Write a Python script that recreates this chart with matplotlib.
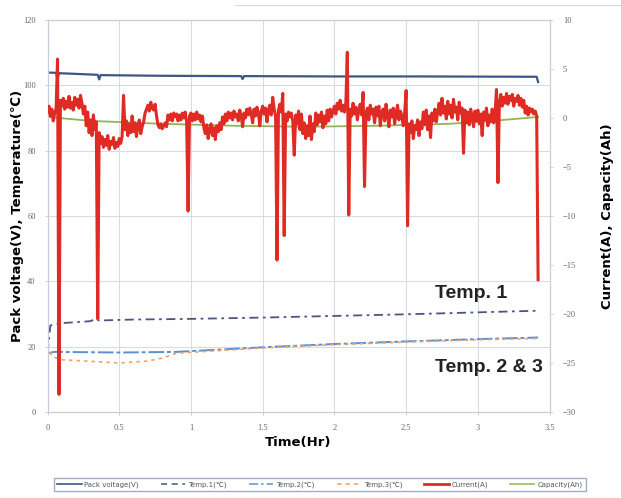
import numpy as np
import matplotlib.pyplot as plt
from matplotlib.lines import Line2D

plt.rcParams['font.family'] = ['DejaVu Sans', 'Noto Sans CJK KR']

current = [
    0.6, 1.2, 0.2, 0.9, -0.3, 0.5, 1.0, 6.0, -28.2, 1.8,
    1.2, 2.0, 0.9, 1.7, 1.1, 2.2, 1.0, 1.6, 0.8, 2.1,
    1.3, 1.9, 1.0, 2.3, 1.5, 0.4, 1.2, -0.8, 0.6, -1.5,
    -0.2, -1.8, 0.3, -1.2, -0.4, -20.5, -1.5, -2.6, -1.9, -3.0,
    -2.2, -2.8, -1.8, -3.2, -2.4, -2.7, -2.0, -3.1, -2.5, -2.9,
    -2.1, -2.6, -1.9, 2.3, -1.2, -0.3, -1.8, -0.6, -1.5, 0.2,
    -1.4, -0.5, -1.9, -0.8, -0.2, -1.6, -0.9, -0.4, 0.5, 0.9,
    1.3, 0.7, 1.6, 1.0, 0.8, 1.4, 0.2, -0.7, -1.0, -0.6,
    -1.1, -0.8, -0.5, -0.9, 0.3, -0.2, 0.4, -0.3, 0.5, 0.1,
    0.4, -0.3, 0.3, -0.2, 0.5, 0.0, 0.6, -0.4, -9.5, 0.2,
    0.5, -0.3, 0.4, -0.2, 0.6, -0.1, 0.3, -0.4, 0.2, -1.0,
    -1.6, -0.7, -2.1, -1.2, -0.6, -1.8, -1.0, -2.2, -0.8, -1.4,
    -0.5, -1.2, 0.1, -0.6, 0.4, -0.3, 0.6, 0.0, 0.5, -0.2,
    0.7, 0.1, 0.4, -0.3, 0.8, 0.2, -0.9, 0.5, 0.0, 0.9,
    0.3, 1.0, 0.4, -0.5, 0.9, 0.2, 1.1, 0.5, -0.8, 0.7,
    1.2, 0.4, 1.0, -0.4, 0.8, 1.3, 0.3, 2.1, 0.9, 0.2,
    -14.5, 0.8, 1.4, 0.6, 2.5, -12.0, 0.4, -0.3, 0.6, 0.1,
    0.5, -0.4, -3.8, 0.3, -0.6, 0.7, -1.2, 0.4, -1.6, -0.5,
    -2.1, -0.8, -1.8, 0.2, -2.2, -0.6, -1.4, 0.5, -0.7, 0.3,
    -0.4, 0.6, -1.0, 0.2, -0.6, 0.8, -0.3, 0.9, 0.1, 0.7,
    1.2, 0.4, 1.5, 0.9, 1.8, 0.7, 1.3, 0.6, 1.6, 6.7,
    -9.9, 0.9, 0.2, 1.5, 0.4, 1.1, -0.2, 0.8, 1.4, 0.3,
    2.6, -7.0, 0.5, 1.0, -0.2, 1.3, 0.4, 0.9, -0.5, 1.1,
    0.2, 1.2, -0.8, 0.6, 0.9, -0.3, 1.4, 0.3, -0.9, 0.8,
    0.1, 1.0, -0.6, 0.5, 1.3, -0.2, 0.7, 0.2, -0.8, 0.6,
    2.8, -11.0, -0.6, -1.5, -0.3, -2.1, -0.8, -1.2, -0.2, -1.8,
    -0.4, -1.1, 0.6, -0.7, 0.8, -1.2, 0.2, -2.0, 0.5, -0.3,
    0.9, -0.4, 0.6, 1.5, 0.3, 2.0, 0.5, 1.2, -0.1, 1.7,
    0.4, 1.3, 0.0, 1.9, 0.6, 1.1, -0.2, 1.6, 0.5, 1.0,
    -3.6, 0.8, -0.5, 0.6, -0.7, 0.9, 0.1, -0.9, 0.7, -0.3,
    0.8, -0.6, 0.4, -1.8, 0.6, -0.2, 1.0, -0.8, 0.3, -0.4,
    0.9, -0.5, 0.5, 2.9, -6.6, 1.6, 2.4, 1.2, 2.1, 1.5,
    2.5, 1.4, 2.2, 1.8, 2.4, 1.2, 2.0, 1.7, 2.3, 1.3,
    2.0, 1.1, 1.8, 0.5, 1.2, 0.3, 1.0, 0.6, 0.9, 0.4,
    0.7, 0.2, -16.5,
]
dt = 0.01
t_current = np.arange(len(current)) * dt

# capacity (Ah)
t_cap = [0, 0.3, 0.8, 1.3, 1.8, 2.3, 2.8, 3.1, 3.42]
capacity = [0.1, -0.3, -0.6, -0.8, -0.9, -0.8, -0.6, -0.3, 0.1]

# pack voltage (V)
t_volt = [0, 0.06, 0.07, 0.08, 0.35, 0.36, 0.37, 0.8, 1.35, 1.36, 1.37, 2.0, 2.6, 3.41, 3.42]
voltage = [103.9, 103.8, 101.8, 103.7, 103.2, 101.8, 103.1, 102.9, 102.8, 101.9, 102.8, 102.7, 102.7, 102.6, 101.0]

# temperatures (deg C)
t_temp1 = [0, 0.02, 0.1, 0.3, 0.34, 0.36, 0.6, 1.0, 1.5, 2.0, 2.5, 3.0, 3.42]
temp1 = [18.0, 26.5, 27.2, 27.8, 28.6, 28.0, 28.3, 28.5, 28.9, 29.4, 29.9, 30.5, 31.0]
t_temp2 = [0, 0.05, 0.5, 0.9, 1.5, 2.0, 2.5, 3.0, 3.42]
temp2 = [18.0, 18.4, 18.2, 18.4, 19.8, 20.8, 21.6, 22.3, 22.8]
t_temp3 = [0, 0.03, 0.1, 0.3, 0.5, 0.7, 0.8, 0.9, 1.5, 2.0, 2.5, 3.0, 3.42]
temp3 = [20.5, 17.0, 16.0, 15.5, 15.0, 15.6, 16.5, 18.0, 19.6, 20.6, 21.4, 22.1, 22.5]

left_ticks = [0, 20, 40, 60, 80, 100, 120]
right_ticks = [10, 5, 0, -5, -10, -15, -20, -25, -30]
x_ticks = [0, 0.5, 1, 1.5, 2, 2.5, 3, 3.5]
x_ticklabels = ['0', '0.5', '1', '1.5', '2', '2.5', '3', '3.5']

fig = plt.figure(figsize=(6.21, 4.98), dpi=100)
ax = fig.add_axes([0.0765, 0.1727, 0.8085, 0.7873])
ax2 = ax.twinx()

c_volt = '#3d5684'
c_t1 = '#4b5680'
c_t2 = '#5b8fd0'
c_t3 = '#f3a064'
c_cur = '#e02a24'
c_cap = '#92b553'

ax.plot(t_volt, voltage, color=c_volt, lw=1.6, zorder=3)
ax.plot(t_temp1, temp1, color=c_t1, lw=1.3, ls=(0, (5, 2.5, 1.5, 2.5)), zorder=3)
ax.plot(t_temp2, temp2, color=c_t2, lw=1.4, ls=(0, (8, 1.5, 2, 1.5)), zorder=3)
ax.plot(t_temp3, temp3, color=c_t3, lw=1.2, ls=(0, (2, 2.5)), zorder=3)

ax2.plot(t_cap, capacity, color=c_cap, lw=1.3, zorder=2)
ax2.plot(t_current, current, color=c_cur, lw=2.2, zorder=3)

ax.set_xlim(0, 3.5)
ax.set_ylim(0, 120)
ax2.set_ylim(-30, 10)
ax.set_xticks(x_ticks)
ax.set_xticklabels(x_ticklabels)
ax.set_yticks(left_ticks)
ax2.set_yticks(right_ticks)

ax.grid(True, color='#d5dbe3', lw=0.7)
ax.set_axisbelow(True)
for a in (ax, ax2):
    for s in a.spines.values():
        s.set_color('#c6cdd8')
        s.set_linewidth(0.8)
    a.tick_params(labelsize=6, colors='#c6cdd8', labelcolor='#666666', length=2.5, width=0.6)
for lab in ax.get_xticklabels() + ax.get_yticklabels() + ax2.get_yticklabels():
    lab.set_family('Liberation Serif')
ax.tick_params(axis='x', pad=6)
ax.tick_params(axis='y', pad=6)
ax2.tick_params(axis='y', pad=7)

ax.set_xlabel('Time(Hr)', fontsize=9.5, fontweight='bold', labelpad=3)
ax.set_ylabel('Pack voltage(V), Temperature(\u2103)', fontsize=9.5, fontweight='bold', labelpad=-1)
ax2.set_ylabel('Current(A), Capacity(Ah)', fontsize=9.5, fontweight='bold', labelpad=18)

ax.text(2.7, 36.4, 'Temp. 1', fontsize=14, fontweight='bold', family='Liberation Sans',
        va='center', ha='left', color='#222222', zorder=5)
ax.text(2.7, 13.5, 'Temp. 2 & 3', fontsize=14, fontweight='bold', family='Liberation Sans',
        va='center', ha='left', color='#222222', zorder=5)

handles = [
    Line2D([], [], color=c_volt, lw=1.2),
    Line2D([], [], color=c_t1, lw=1.1, ls=(0, (4, 3))),
    Line2D([], [], color=c_t2, lw=1.1, ls=(0, (6, 2, 1.5, 2))),
    Line2D([], [], color=c_t3, lw=1.1, ls=(0, (3, 2.5))),
    Line2D([], [], color=c_cur, lw=2.0),
    Line2D([], [], color=c_cap, lw=1.1),
]
labels = ['Pack voltage(V)', 'Temp.1(\u2103)', 'Temp.2(\u2103)', 'Temp.3(\u2103)', 'Current(A)', 'Capacity(Ah)']
leg = fig.legend(handles, labels, loc='center', bbox_to_anchor=(0.515, 0.027), ncol=6,
                 fontsize=5, frameon=True, fancybox=False, handlelength=3.5,
                 columnspacing=3.2, handletextpad=0.4, borderpad=0.5)
leg.get_frame().set_edgecolor('#8a98b8')
leg.get_frame().set_linewidth(1.0)
for txt in leg.get_texts():
    txt.set_color('#555555')

fig.add_artist(Line2D([235 / 621, 1.0], [1 - 5 / 498, 1 - 5 / 498], color='#d8d8d8', lw=0.8))

fig.savefig('out.png', dpi=100)
